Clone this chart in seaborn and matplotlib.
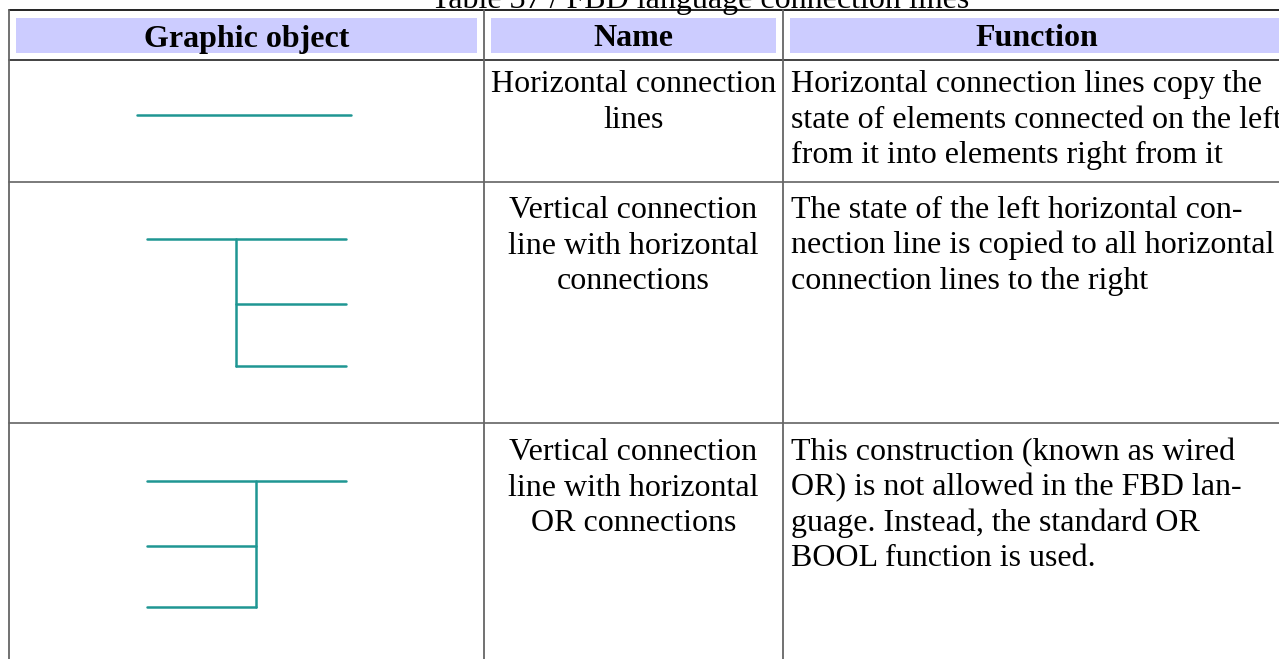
import pandas as pd
import matplotlib.pyplot as plt
import seaborn as sns
from matplotlib.patches import Rectangle

# ---------------- table content ----------------
title = "Table 37 / FBD language connection lines"
headers = ["Graphic object", "Name", "Function"]

names = [
    ["Horizontal connection", "lines"],
    ["Vertical connection", "line with horizontal", "connections"],
    ["Vertical connection", "line with horizontal", "OR connections"],
]
functions = [
    ["Horizontal connection lines copy the",
     "state of elements connected on the left",
     "from it into elements right from it"],
    ["The state of the left horizontal con-",
     "nection line is copied to all horizontal",
     "connection lines to the right"],
    ["This construction (known as wired",
     "OR) is not allowed in the FBD lan-",
     "guage. Instead, the standard OR",
     "BOOL function is used."],
]

# graphic objects: segments (x0, x1, y0, y1) per row, in page pixels
glyph_row1 = [(137, 351, 115, 115)]
glyph_row2 = [(147, 346, 239, 239), (236, 236, 239, 366),
              (236, 346, 304, 304), (236, 346, 366, 366)]
glyph_row3 = [(147, 346, 481, 481), (256, 256, 481, 607),
              (147, 256, 546, 546), (147, 256, 607, 607)]

# ---------------- layout ----------------
col_x = [9, 484, 783, 1291]
row_y = [10, 60, 182, 423, 700]
TEAL = "#1f9693"
HEAD_BG = "#ccccff"
FS = 23
LINE_H = 35.5

sns.set_theme(style="white")
plt.rcParams['font.family'] = ['Liberation Serif', 'DejaVu Serif']
plt.rcParams['text.color'] = 'black'

fig = plt.figure(figsize=(12.79, 6.59), dpi=100)
ax = fig.add_axes([0, 0, 1, 1])

# header backgrounds
for i in range(3):
    x0 = col_x[i] + 7
    x1 = col_x[i + 1] - 7
    ax.add_patch(Rectangle((x0, 18), x1 - x0, 35, color=HEAD_BG, lw=0, zorder=0))

# grid
ax.plot([col_x[0], col_x[-1]], [row_y[0]] * 2, color="#111111", lw=1.3)
ax.plot([col_x[0], col_x[-1]], [row_y[1]] * 2, color="#333333", lw=1.3)
for y in row_y[2:4]:
    ax.plot([col_x[0], col_x[-1]], [y, y], color="#707070", lw=1.3)
for x in col_x:
    ax.plot([x, x], [row_y[0], row_y[-1]], color="#666666", lw=1.3)

# title and headers
ax.text(700, 8, title, ha='center', va='baseline', fontsize=FS, color='black')
for i, h in enumerate(headers):
    cx = (col_x[i] + col_x[i + 1]) / 2
    ax.text(cx, 46.5, h, ha='center', va='baseline', fontsize=FS,
            fontweight='bold', color='black')

# body text
base = [92, 218, 460]
for r in range(3):
    cx = (col_x[1] + col_x[2]) / 2
    for k, s in enumerate(names[r]):
        ax.text(cx, base[r] + k * LINE_H, s, ha='center', va='baseline',
                fontsize=FS, color='black')
    for k, s in enumerate(functions[r]):
        ax.text(col_x[2] + 8, base[r] + k * LINE_H, s, ha='left', va='baseline',
                fontsize=FS, color='black')

# connection line glyphs
rows = []
for g, segs in enumerate([glyph_row1, glyph_row2, glyph_row3]):
    for j, (x0, x1, y0, y1) in enumerate(segs):
        rows.append({"x": x0, "y": y0, "seg": f"{g}-{j}"})
        rows.append({"x": x1, "y": y1, "seg": f"{g}-{j}"})
glyphs = pd.DataFrame(rows)
sns.lineplot(data=glyphs, x="x", y="y", units="seg", estimator=None, sort=False,
             color=TEAL, lw=1.8, ax=ax, legend=False)
ax.set_xlim(0, 1279)
ax.set_ylim(659, 0)
ax.axis('off')

fig.savefig("out.png", dpi=100)
